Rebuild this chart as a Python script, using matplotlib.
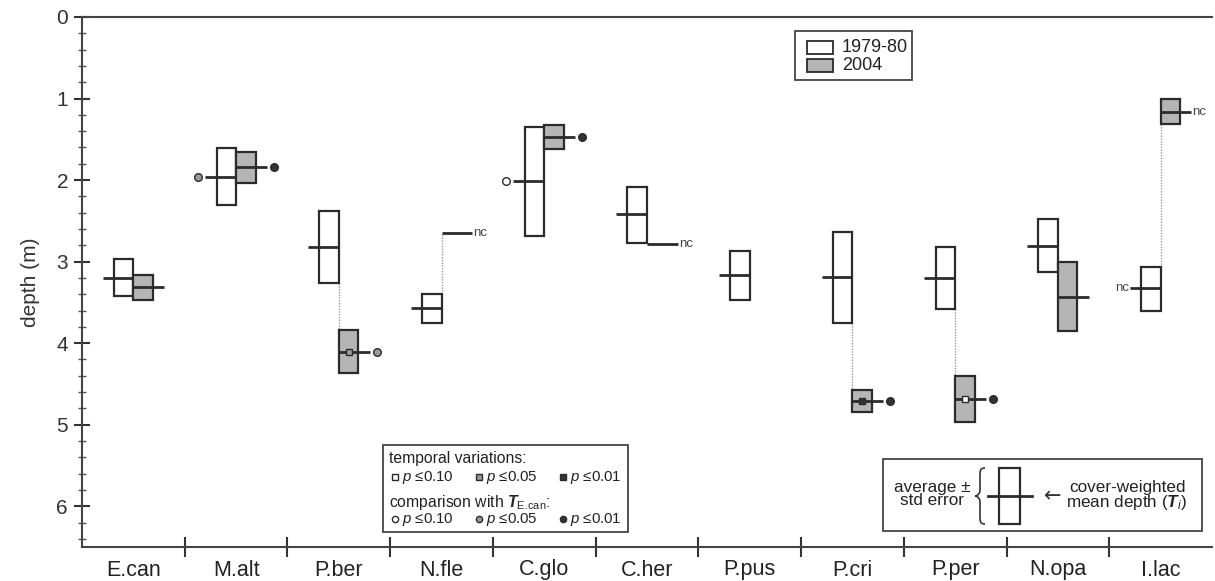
import numpy as np
import matplotlib
matplotlib.use("Agg")
import matplotlib.pyplot as plt
from matplotlib.patches import Rectangle, PathPatch
from matplotlib.lines import Line2D
from matplotlib.path import Path
from matplotlib.transforms import Affine2D

plt.rcParams['font.family'] = ['Liberation Sans', 'DejaVu Sans']
plt.rcParams['mathtext.fontset'] = 'custom'
plt.rcParams['mathtext.rm'] = 'Liberation Sans'
plt.rcParams['mathtext.it'] = 'Liberation Sans:italic'
plt.rcParams['mathtext.bf'] = 'Liberation Sans:bold:italic'

species = ['E.can', 'M.alt', 'P.ber', 'N.fle', 'C.glo', 'C.her',
           'P.pus', 'P.cri', 'P.per', 'N.opa', 'I.lac']

# 1979-80: average, std error, cover-weighted mean depth (m)
avg_old = [3.195, 1.96, 2.82, 3.575, 2.015, 2.43, 3.17, 3.195, 3.20, 2.805, 3.33]
se_old = [0.225, 0.35, 0.44, 0.175, 0.665, 0.34, 0.30, 0.555, 0.38, 0.325, 0.27]
mean_old = [3.20, 1.96, 2.82, 3.57, 2.01, 2.42, 3.17, 3.19, 3.20, 2.81, 3.32]

# 2004 (nan = no box / no record)
avg_new = [3.32, 1.845, 4.105, np.nan, 1.475, np.nan, np.nan, 4.71, 4.685, 3.43, 1.155]
se_new = [0.15, 0.185, 0.265, np.nan, 0.145, np.nan, np.nan, 0.13, 0.285, 0.42, 0.155]
mean_new = [3.31, 1.84, 4.11, 2.65, 1.47, 2.79, np.nan, 4.71, 4.69, 3.44, 1.16]

nc_old = [False] * 10 + [True]
nc_new = [False, False, False, True, False, True, False, False, False, False, True]
linked = [False, False, True, True, False, False, False, True, True, False, True]

# significance levels (None = not significant)
p_temporal = [None, None, 0.05, None, None, None, None, 0.01, 0.10, None, None]
p_cmp_old = [None, 0.05, None, None, 0.10, None, None, None, None, None, None]
p_cmp_new = [None, 0.01, 0.05, None, 0.01, None, None, 0.01, 0.01, None, None]

sig_face = {0.10: 'white', 0.05: '#9a9a9a', 0.01: '#333333'}
GRAY = '#b5b5b5'
EDGE = '#2b2b2b'
BW = 0.19
ML = 0.30

W, H = 1215, 581
fig = plt.figure(figsize=(W / 100, H / 100), dpi=100)
ax = fig.add_axes([82 / W, 1 - 547 / H, (1212 - 82) / W, (547 - 17) / H])
px = Affine2D().scale(1 / W, -1 / H).translate(0, 1) + fig.transFigure

for i in range(len(species)):
    ao, so, mo = avg_old[i], se_old[i], mean_old[i]
    ax.add_patch(Rectangle((i - BW, ao - so), BW, 2 * so, fc='white', ec=EDGE, lw=1.6, zorder=3))
    ax.plot([i - ML, i], [mo, mo], color=EDGE, lw=2, zorder=4, solid_capstyle='butt')
    if nc_old[i]:
        ax.text(i - ML - 0.01, mo, 'nc', ha='right', va='center', fontsize=9.5, color='#444')
    if p_cmp_old[i]:
        ax.plot(i - 0.37, mo, 'o', ms=5.5, mfc=sig_face[p_cmp_old[i]], mec=EDGE, mew=1, zorder=5)

    an, sn, mn = avg_new[i], se_new[i], mean_new[i]
    if not np.isnan(an):
        ax.add_patch(Rectangle((i, an - sn), BW, 2 * sn, fc=GRAY, ec=EDGE, lw=1.6, zorder=3))
    if not np.isnan(mn):
        ax.plot([i, i + ML], [mn, mn], color=EDGE, lw=2, zorder=4, solid_capstyle='butt')
        if nc_new[i]:
            ax.text(i + ML + 0.01, mn, 'nc', ha='left', va='center', fontsize=9.5, color='#444')
        if p_cmp_new[i]:
            ax.plot(i + 0.37, mn, 'o', ms=5.5, mfc=sig_face[p_cmp_new[i]], mec=EDGE, mew=1, zorder=5)
        if p_temporal[i]:
            ax.plot(i + BW / 2, mn, 's', ms=5, mfc=sig_face[p_temporal[i]], mec=EDGE, mew=1, zorder=5)

    if linked[i]:
        if mn > mo:
            y0 = ao + so
            y1 = mn if np.isnan(an) else an - sn
        else:
            y0 = ao - so
            y1 = mn if np.isnan(an) else an + sn
        ax.plot([i, i], [y0, y1], color='#999999', lw=1, ls=(0, (1, 1)), zorder=2)

ax.set_xlim(-0.5, len(species) - 0.5)
ax.set_ylim(6.5, 0)
ax.set_xticks(range(len(species)))
ax.set_xticklabels(species, fontsize=15.5, color='#222')
ax.set_xticks(np.arange(0.5, len(species) - 1, 1), minor=True)
ax.tick_params(axis='x', which='major', length=0, pad=9)
ax.tick_params(axis='x', which='minor', length=15, width=1.5, direction='inout', color='#333')
ax.set_yticks(range(7))
ax.set_yticks(np.arange(0, 6.5, 0.2), minor=True)
ax.tick_params(axis='y', which='major', length=12, width=1.5, direction='inout', color='#333',
               labelsize=15, labelcolor='#333', pad=4)
ax.tick_params(axis='y', which='minor', length=6, width=1, direction='inout', color='#555')
ax.set_ylabel('depth (m)', fontsize=15, color='#333', labelpad=12)
for s in ['left', 'bottom', 'top']:
    ax.spines[s].set_color('#444')
    ax.spines[s].set_linewidth(1.5)
ax.spines['right'].set_visible(False)

# legend: years
fig.add_artist(Rectangle((795, 31), 117, 49, fc='white', ec='#444', lw=1.3, transform=px))
fig.add_artist(Rectangle((807, 41), 26, 13, fc='white', ec=EDGE, lw=1.3, transform=px))
fig.add_artist(Rectangle((807, 59), 26, 13, fc=GRAY, ec=EDGE, lw=1.3, transform=px))
fig.text(842, 47.5, '1979-80', transform=px, fontsize=13, va='center', color='#222')
fig.text(842, 65.5, '2004', transform=px, fontsize=13, va='center', color='#222')

# legend: significance
fs = 11.3
fig.add_artist(Rectangle((383, 445), 245, 87, fc='white', ec='#444', lw=1.3, transform=px))
fig.text(389, 459, 'temporal variations:', transform=px, fontsize=fs, va='center', color='#222')
fig.text(389, 502, r'comparison with $\mathbf{T}_{\text{E.can}}$:', transform=px,
         fontsize=fs, va='center', color='#222')
levels = [0.10, 0.05, 0.01]
xs = [395, 479, 563]
for lv, x in zip(levels, xs):
    fig.add_artist(Line2D([x], [477], marker='s', ms=4.5, mfc=sig_face[lv], mec=EDGE, mew=1, transform=px))
    fig.add_artist(Line2D([x], [519], marker='o', ms=4.5, mfc=sig_face[lv], mec=EDGE, mew=1, transform=px))
    lab = r'$p$ ≤%.2f' % lv
    fig.text(x + 7, 477, lab, transform=px, fontsize=10.8, va='center', color='#222')
    fig.text(x + 7, 519, lab, transform=px, fontsize=10.8, va='center', color='#222')

# legend: box explanation
fig.add_artist(Rectangle((883, 459), 319, 72, fc='white', ec='#444', lw=1.3, transform=px))
fig.text(932, 494, 'average ±\nstd error', transform=px, fontsize=12.3, ha='center', va='center',
         multialignment='center', color='#222', linespacing=0.85)
xr, xm, xl, yt, ymid, yb = 985, 980, 975, 468, 496, 524
verts = [(xr, yt), (xm, yt), (xm, yt + 3), (xm, yt + 8), (xm, ymid - 6),
         (xm, ymid - 2), (xl + 2, ymid), (xl, ymid),
         (xl + 2, ymid), (xm, ymid + 2), (xm, ymid + 6), (xm, yb - 8),
         (xm, yb - 3), (xm, yb), (xr, yb)]
codes = [Path.MOVETO, Path.CURVE4, Path.CURVE4, Path.CURVE4, Path.LINETO,
         Path.CURVE4, Path.CURVE4, Path.CURVE4,
         Path.CURVE4, Path.CURVE4, Path.CURVE4, Path.LINETO,
         Path.CURVE4, Path.CURVE4, Path.CURVE4]
fig.add_artist(PathPatch(Path(verts, codes), fc='none', ec='#333', lw=1.2, transform=px))
fig.add_artist(Rectangle((999, 468), 21, 56, fc='white', ec=EDGE, lw=1.6, transform=px))
fig.add_artist(Line2D([988, 1032], [496, 496], color=EDGE, lw=2, transform=px))
fig.text(1053, 496, '←', transform=px, fontsize=15, ha='center', va='center', color='#333',
         family=['DejaVu Sans'])
fig.text(1127, 496, 'cover-weighted\nmean depth ($\\mathbf{T}_{i}$)', transform=px, fontsize=12.3,
         ha='center', va='center', multialignment='center', color='#222', linespacing=0.85)

fig.savefig('out.png', dpi=100)
